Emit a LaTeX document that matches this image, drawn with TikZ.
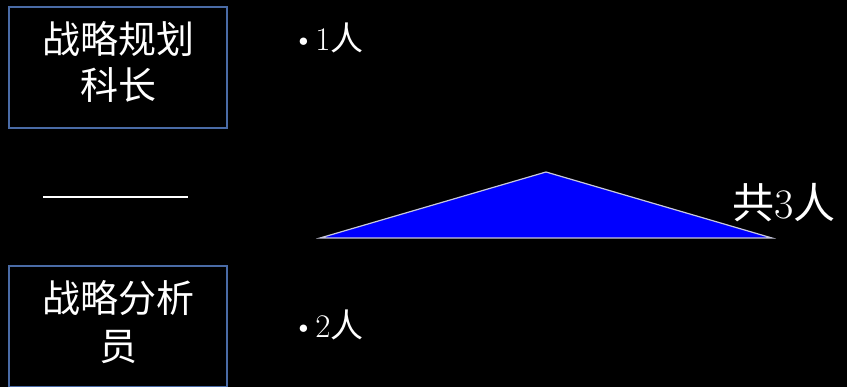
\documentclass[tikz,border=0pt]{standalone}
\usepackage{fontspec}
\newfontfamily\cjk{Noto Sans CJK SC}
\usetikzlibrary{positioning}
\definecolor{boxblue}{HTML}{4A6BA6}
\definecolor{triblue}{HTML}{0000FF}
\definecolor{edgegray}{HTML}{C8C8DC}

\begin{document}
\begin{tikzpicture}[x=1pt, y=-1pt, thick,
    rolebox/.style={draw=boxblue, line width=2pt, minimum width=218pt, minimum height=121pt},
    roletext/.style={text=white, align=center, font=\cjk\fontsize{38}{48}\selectfont},
    count/.style={text=white, anchor=west, font=\fontsize{33}{36}\selectfont}]
    \useasboundingbox[fill=black] (0,0) rectangle (847,387);

    \node[rolebox] (head) at (118,67.5) {};
    \node[roletext] (headtext) at ([yshift=6pt]head.center) {战略规划\\[-2pt]科长};
    \node[rolebox] (analyst) at (118,326.5) {};
    \node[roletext] (analysttext) at ([yshift=4pt]analyst.center) {战略分析\\员};

    \node[count] (one) at (288,38) {\textbullet1{\cjk 人}};
    \node[count] (two) at (288,325) {\textbullet2{\cjk 人}};

    % divider between the two roles
    \coordinate (dl) at (43,197);
    \coordinate (dr) at (188,197);
    \draw[white, line width=1.5pt] (dl) -- (dr);

    % total
    \coordinate (tl) at (320,238);
    \coordinate (tt) at (546,172);
    \coordinate (tr) at (772,238);
    \filldraw[fill=triblue, draw=edgegray, line width=1.2pt] (tl) -- (tt) -- (tr) -- cycle;
    \node[text=white, font=\fontsize{42}{44}\selectfont] (total) at (784,203) {{\cjk 共}3{\cjk 人}};
\end{tikzpicture}
\end{document}
